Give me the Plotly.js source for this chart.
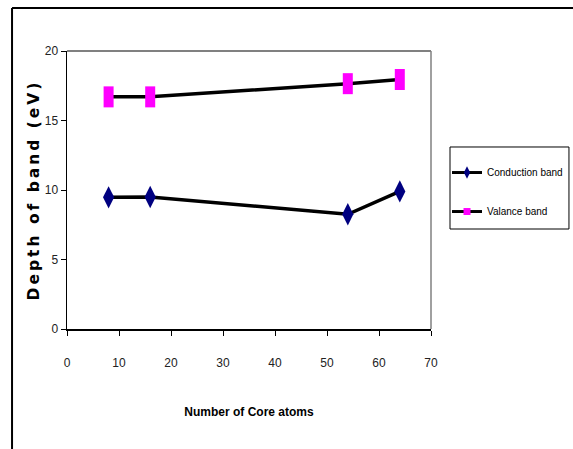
<!DOCTYPE html>
<html>
<head>
<meta charset="utf-8">
<script src="https://cdn.plot.ly/plotly-3.0.1.min.js"></script>
<style>html,body{margin:0;padding:0;background:#fff;}#chart{width:573px;height:449px;}
#chart .ytitle{letter-spacing:3px;}</style>
</head>
<body>
<div id="chart"></div>
<script>
const coreAtoms = [8, 16, 54, 64];
const conductionBand = [9.47, 9.5, 8.25, 9.9];
const valanceBand = [16.7, 16.7, 17.65, 17.95];
const seriesNames = ["Conduction band", "Valance band"];
const xTickVals = [0, 10, 20, 30, 40, 50, 60, 70];
const yTickVals = [0, 5, 10, 15, 20];

const narrow = '"Liberation Sans Narrow", "Arial Narrow", "Liberation Sans", Arial, sans-serif';
const navy = '#000080', magenta = '#ff00ff';

const traces = [
  {
    x: coreAtoms, y: conductionBand, name: seriesNames[0], type: 'scatter', mode: 'lines+markers',
    showlegend: false,
    line: {color: '#000000', width: 3.5},
    marker: {symbol: 'diamond-tall', size: 16, color: navy, line: {width: 0}}
  },
  {
    x: coreAtoms, y: valanceBand, name: seriesNames[1], type: 'scatter', mode: 'lines+markers',
    showlegend: false,
    line: {color: '#000000', width: 3.5},
    marker: {symbol: 'line-ns', size: 15, color: magenta, line: {width: 10, color: magenta}}
  },
  {
    x: [null], y: [null], name: seriesNames[0], type: 'scatter', mode: 'lines+markers', legendgroup: 'a',
    line: {color: '#000000', width: 3},
    marker: {symbol: 'diamond-tall', size: 9, color: navy, line: {width: 0}}
  },
  {
    x: [null], y: [null], name: seriesNames[1], type: 'scatter', mode: 'lines+markers', legendgroup: 'b',
    line: {color: '#000000', width: 3},
    marker: {symbol: 'square', size: 7, color: magenta, line: {width: 0}}
  }
];

const layout = {
  width: 573, height: 449,
  margin: {l: 67, r: 142, t: 51, b: 120, autoexpand: false},
  paper_bgcolor: '#ffffff', plot_bgcolor: '#ffffff',
  font: {family: narrow, size: 12, color: '#000000'},
  showlegend: true,
  legend: {
    x: 1.044, y: 0.615, xanchor: 'left', yanchor: 'top',
    borderwidth: 0, bgcolor: 'rgba(0,0,0,0)',
    font: {family: narrow, size: 10, color: '#000000'},
    traceorder: 'grouped', tracegroupgap: 20, itemwidth: 30
  },
  xaxis: {
    range: [0, 70], tickvals: xTickVals, ticks: 'outside', ticklen: 5, tickwidth: 1, tickcolor: '#000',
    showline: true, linecolor: '#000000', linewidth: 2, showgrid: false, zeroline: false,
    ticklabelstandoff: 17,
    tickfont: {family: narrow, size: 12, color: '#222'},
    title: {text: '<b>Number of Core atoms</b>', font: {family: narrow, size: 12, color: '#000'}, standoff: 38}
  },
  yaxis: {
    range: [0, 20], tickvals: yTickVals, ticks: 'outside', ticklen: 5, tickwidth: 1, tickcolor: '#000',
    showline: true, linecolor: '#000000', linewidth: 1.5, showgrid: false, zeroline: false,
    tickfont: {family: narrow, size: 12, color: '#222'},
    title: {text: '<b>Depth of band (eV)</b>', font: {family: '"DejaVu Sans", Verdana, sans-serif', size: 15.5, color: '#000'}, standoff: 1}
  },
  shapes: [
    {type: 'line', xref: 'paper', yref: 'paper', x0: 0, x1: 1, y0: 1, y1: 1, line: {color: '#808080', width: 2}},
    {type: 'line', xref: 'paper', yref: 'paper', x0: 1, x1: 1, y0: 0, y1: 1, line: {color: '#808080', width: 1.5}},
    {type: 'line', xref: 'paper', yref: 'paper', x0: -0.151, x1: -0.151, y0: -0.5, y1: 1.1547, line: {color: '#000', width: 2}},
    {type: 'line', xref: 'paper', yref: 'paper', x0: -0.151, x1: 1.5, y0: 1.1547, y1: 1.1547, line: {color: '#000', width: 2}},
    {type: 'rect', xref: 'paper', yref: 'paper', x0: 1.0522, x1: 1.379, y0: 0.3597, y1: 0.6547, line: {color: '#000', width: 1}, fillcolor: 'rgba(0,0,0,0)'}
  ]
};

Plotly.newPlot('chart', traces, layout, {displayModeBar: false, staticPlot: true});
</script>
</body>
</html>
